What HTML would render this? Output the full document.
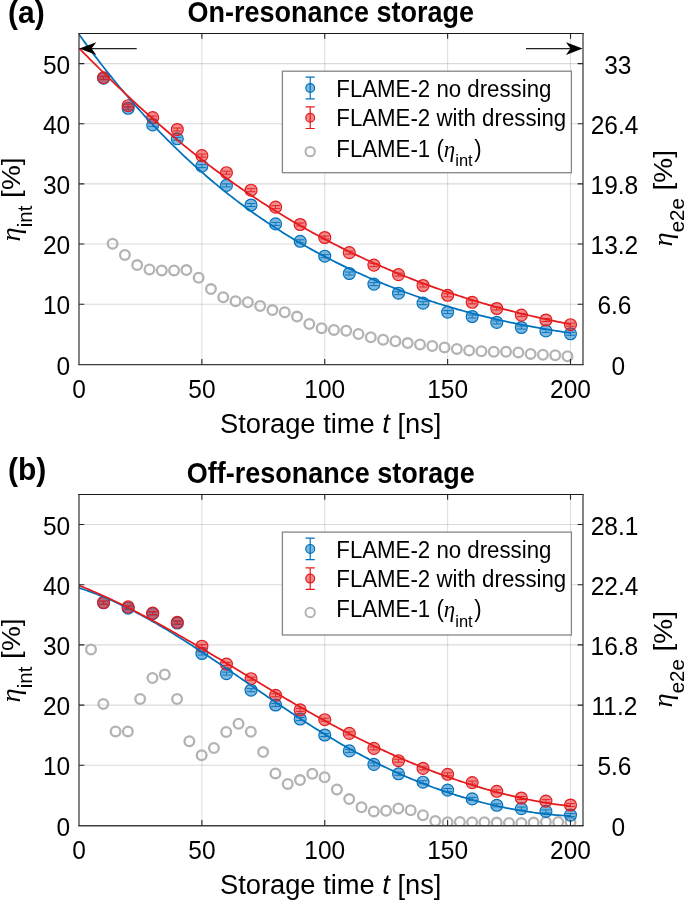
<!DOCTYPE html>
<html><head><meta charset="utf-8"><style>
html,body{margin:0;padding:0;background:#fff;}
svg{display:block;will-change:transform;}
text{font-family:"Liberation Sans", sans-serif;fill:#000;}
</style></head><body>
<svg width="685" height="900" viewBox="0 0 685 900">
<rect width="685" height="900" fill="#fff"/>
<clipPath id="clipa"><rect x="79.0" y="33.5" width="503.9" height="330.9"/></clipPath>
<path d="M201.88 33.5V364.4M324.75 33.5V364.4M447.62 33.5V364.4M570.50 33.5V364.4" stroke="#262626" stroke-opacity="0.15" stroke-width="1.1" fill="none"/>
<path d="M79.0 304.24H582.9M79.0 244.07H582.9M79.0 183.91H582.9M79.0 123.75H582.9M79.0 63.58H582.9" stroke="#262626" stroke-opacity="0.17" stroke-width="1.1" fill="none"/>
<g clip-path="url(#clipa)">
<circle cx="112.60" cy="243.80" r="4.85" fill="none" stroke="#B3B3B3" stroke-width="2.3"/>
<circle cx="124.89" cy="254.90" r="4.85" fill="none" stroke="#B3B3B3" stroke-width="2.3"/>
<circle cx="137.19" cy="265.10" r="4.85" fill="none" stroke="#B3B3B3" stroke-width="2.3"/>
<circle cx="149.48" cy="269.50" r="4.85" fill="none" stroke="#B3B3B3" stroke-width="2.3"/>
<circle cx="161.78" cy="270.40" r="4.85" fill="none" stroke="#B3B3B3" stroke-width="2.3"/>
<circle cx="174.07" cy="270.40" r="4.85" fill="none" stroke="#B3B3B3" stroke-width="2.3"/>
<circle cx="186.37" cy="270.10" r="4.85" fill="none" stroke="#B3B3B3" stroke-width="2.3"/>
<circle cx="198.66" cy="277.70" r="4.85" fill="none" stroke="#B3B3B3" stroke-width="2.3"/>
<circle cx="210.96" cy="289.10" r="4.85" fill="none" stroke="#B3B3B3" stroke-width="2.3"/>
<circle cx="223.25" cy="297.20" r="4.85" fill="none" stroke="#B3B3B3" stroke-width="2.3"/>
<circle cx="235.55" cy="301.30" r="4.85" fill="none" stroke="#B3B3B3" stroke-width="2.3"/>
<circle cx="247.84" cy="302.20" r="4.85" fill="none" stroke="#B3B3B3" stroke-width="2.3"/>
<circle cx="260.14" cy="306.00" r="4.85" fill="none" stroke="#B3B3B3" stroke-width="2.3"/>
<circle cx="272.44" cy="310.10" r="4.85" fill="none" stroke="#B3B3B3" stroke-width="2.3"/>
<circle cx="284.73" cy="312.30" r="4.85" fill="none" stroke="#B3B3B3" stroke-width="2.3"/>
<circle cx="297.02" cy="316.60" r="4.85" fill="none" stroke="#B3B3B3" stroke-width="2.3"/>
<circle cx="309.32" cy="324.00" r="4.85" fill="none" stroke="#B3B3B3" stroke-width="2.3"/>
<circle cx="321.62" cy="328.30" r="4.85" fill="none" stroke="#B3B3B3" stroke-width="2.3"/>
<circle cx="333.91" cy="329.90" r="4.85" fill="none" stroke="#B3B3B3" stroke-width="2.3"/>
<circle cx="346.20" cy="330.70" r="4.85" fill="none" stroke="#B3B3B3" stroke-width="2.3"/>
<circle cx="358.50" cy="334.00" r="4.85" fill="none" stroke="#B3B3B3" stroke-width="2.3"/>
<circle cx="370.79" cy="337.20" r="4.85" fill="none" stroke="#B3B3B3" stroke-width="2.3"/>
<circle cx="383.09" cy="339.70" r="4.85" fill="none" stroke="#B3B3B3" stroke-width="2.3"/>
<circle cx="395.38" cy="341.20" r="4.85" fill="none" stroke="#B3B3B3" stroke-width="2.3"/>
<circle cx="407.68" cy="343.10" r="4.85" fill="none" stroke="#B3B3B3" stroke-width="2.3"/>
<circle cx="419.98" cy="344.50" r="4.85" fill="none" stroke="#B3B3B3" stroke-width="2.3"/>
<circle cx="432.27" cy="346.00" r="4.85" fill="none" stroke="#B3B3B3" stroke-width="2.3"/>
<circle cx="444.56" cy="347.40" r="4.85" fill="none" stroke="#B3B3B3" stroke-width="2.3"/>
<circle cx="456.86" cy="348.90" r="4.85" fill="none" stroke="#B3B3B3" stroke-width="2.3"/>
<circle cx="469.15" cy="350.40" r="4.85" fill="none" stroke="#B3B3B3" stroke-width="2.3"/>
<circle cx="481.45" cy="351.20" r="4.85" fill="none" stroke="#B3B3B3" stroke-width="2.3"/>
<circle cx="493.75" cy="351.80" r="4.85" fill="none" stroke="#B3B3B3" stroke-width="2.3"/>
<circle cx="506.04" cy="351.80" r="4.85" fill="none" stroke="#B3B3B3" stroke-width="2.3"/>
<circle cx="518.34" cy="352.40" r="4.85" fill="none" stroke="#B3B3B3" stroke-width="2.3"/>
<circle cx="530.63" cy="353.90" r="4.85" fill="none" stroke="#B3B3B3" stroke-width="2.3"/>
<circle cx="542.92" cy="354.70" r="4.85" fill="none" stroke="#B3B3B3" stroke-width="2.3"/>
<circle cx="555.22" cy="355.30" r="4.85" fill="none" stroke="#B3B3B3" stroke-width="2.3"/>
<circle cx="567.51" cy="356.20" r="4.85" fill="none" stroke="#B3B3B3" stroke-width="2.3"/>
<circle cx="103.58" cy="78.20" r="5.95" fill="#0072BD" fill-opacity="0.5" stroke="#0072BD" stroke-width="1.2"/><path d="M99.17 76.70H107.98M99.17 79.70H107.98M103.58 76.70V79.70" stroke="#0072BD" stroke-width="0.9" fill="none"/>
<circle cx="128.15" cy="108.30" r="5.95" fill="#0072BD" fill-opacity="0.5" stroke="#0072BD" stroke-width="1.2"/><path d="M123.75 106.80H132.55M123.75 109.80H132.55M128.15 106.80V109.80" stroke="#0072BD" stroke-width="0.9" fill="none"/>
<circle cx="152.72" cy="124.90" r="5.95" fill="#0072BD" fill-opacity="0.5" stroke="#0072BD" stroke-width="1.2"/><path d="M148.32 123.40H157.12M148.32 126.40H157.12M152.72 123.40V126.40" stroke="#0072BD" stroke-width="0.9" fill="none"/>
<circle cx="177.30" cy="138.80" r="5.95" fill="#0072BD" fill-opacity="0.5" stroke="#0072BD" stroke-width="1.2"/><path d="M172.90 137.30H181.70M172.90 140.30H181.70M177.30 137.30V140.30" stroke="#0072BD" stroke-width="0.9" fill="none"/>
<circle cx="201.88" cy="166.10" r="5.95" fill="#0072BD" fill-opacity="0.5" stroke="#0072BD" stroke-width="1.2"/><path d="M197.47 164.60H206.28M197.47 167.60H206.28M201.88 164.60V167.60" stroke="#0072BD" stroke-width="0.9" fill="none"/>
<circle cx="226.45" cy="185.40" r="5.95" fill="#0072BD" fill-opacity="0.5" stroke="#0072BD" stroke-width="1.2"/><path d="M222.05 183.90H230.85M222.05 186.90H230.85M226.45 183.90V186.90" stroke="#0072BD" stroke-width="0.9" fill="none"/>
<circle cx="251.03" cy="205.00" r="5.95" fill="#0072BD" fill-opacity="0.5" stroke="#0072BD" stroke-width="1.2"/><path d="M246.62 203.50H255.43M246.62 206.50H255.43M251.03 203.50V206.50" stroke="#0072BD" stroke-width="0.9" fill="none"/>
<circle cx="275.60" cy="223.90" r="5.95" fill="#0072BD" fill-opacity="0.5" stroke="#0072BD" stroke-width="1.2"/><path d="M271.20 222.40H280.00M271.20 225.40H280.00M275.60 222.40V225.40" stroke="#0072BD" stroke-width="0.9" fill="none"/>
<circle cx="300.18" cy="241.30" r="5.95" fill="#0072BD" fill-opacity="0.5" stroke="#0072BD" stroke-width="1.2"/><path d="M295.78 239.80H304.57M295.78 242.80H304.57M300.18 239.80V242.80" stroke="#0072BD" stroke-width="0.9" fill="none"/>
<circle cx="324.75" cy="256.20" r="5.95" fill="#0072BD" fill-opacity="0.5" stroke="#0072BD" stroke-width="1.2"/><path d="M320.35 254.70H329.15M320.35 257.70H329.15M324.75 254.70V257.70" stroke="#0072BD" stroke-width="0.9" fill="none"/>
<circle cx="349.32" cy="273.50" r="5.95" fill="#0072BD" fill-opacity="0.5" stroke="#0072BD" stroke-width="1.2"/><path d="M344.93 272.00H353.72M344.93 275.00H353.72M349.32 272.00V275.00" stroke="#0072BD" stroke-width="0.9" fill="none"/>
<circle cx="373.90" cy="284.10" r="5.95" fill="#0072BD" fill-opacity="0.5" stroke="#0072BD" stroke-width="1.2"/><path d="M369.50 282.60H378.30M369.50 285.60H378.30M373.90 282.60V285.60" stroke="#0072BD" stroke-width="0.9" fill="none"/>
<circle cx="398.48" cy="293.20" r="5.95" fill="#0072BD" fill-opacity="0.5" stroke="#0072BD" stroke-width="1.2"/><path d="M394.08 291.70H402.88M394.08 294.70H402.88M398.48 291.70V294.70" stroke="#0072BD" stroke-width="0.9" fill="none"/>
<circle cx="423.05" cy="303.10" r="5.95" fill="#0072BD" fill-opacity="0.5" stroke="#0072BD" stroke-width="1.2"/><path d="M418.65 301.60H427.45M418.65 304.60H427.45M423.05 301.60V304.60" stroke="#0072BD" stroke-width="0.9" fill="none"/>
<circle cx="447.62" cy="312.10" r="5.95" fill="#0072BD" fill-opacity="0.5" stroke="#0072BD" stroke-width="1.2"/><path d="M443.23 310.60H452.02M443.23 313.60H452.02M447.62 310.60V313.60" stroke="#0072BD" stroke-width="0.9" fill="none"/>
<circle cx="472.20" cy="316.50" r="5.95" fill="#0072BD" fill-opacity="0.5" stroke="#0072BD" stroke-width="1.2"/><path d="M467.80 315.00H476.60M467.80 318.00H476.60M472.20 315.00V318.00" stroke="#0072BD" stroke-width="0.9" fill="none"/>
<circle cx="496.77" cy="322.40" r="5.95" fill="#0072BD" fill-opacity="0.5" stroke="#0072BD" stroke-width="1.2"/><path d="M492.38 320.90H501.17M492.38 323.90H501.17M496.77 320.90V323.90" stroke="#0072BD" stroke-width="0.9" fill="none"/>
<circle cx="521.35" cy="327.50" r="5.95" fill="#0072BD" fill-opacity="0.5" stroke="#0072BD" stroke-width="1.2"/><path d="M516.95 326.00H525.75M516.95 329.00H525.75M521.35 326.00V329.00" stroke="#0072BD" stroke-width="0.9" fill="none"/>
<circle cx="545.92" cy="330.90" r="5.95" fill="#0072BD" fill-opacity="0.5" stroke="#0072BD" stroke-width="1.2"/><path d="M541.52 329.40H550.32M541.52 332.40H550.32M545.92 329.40V332.40" stroke="#0072BD" stroke-width="0.9" fill="none"/>
<circle cx="570.50" cy="333.80" r="5.95" fill="#0072BD" fill-opacity="0.5" stroke="#0072BD" stroke-width="1.2"/><path d="M566.10 332.30H574.90M566.10 335.30H574.90M570.50 332.30V335.30" stroke="#0072BD" stroke-width="0.9" fill="none"/>
<circle cx="103.58" cy="77.70" r="5.95" fill="#E41A1C" fill-opacity="0.5" stroke="#E41A1C" stroke-width="1.2"/><path d="M99.17 76.20H107.98M99.17 79.20H107.98M103.58 76.20V79.20" stroke="#E41A1C" stroke-width="0.9" fill="none"/>
<circle cx="128.15" cy="105.70" r="5.95" fill="#E41A1C" fill-opacity="0.5" stroke="#E41A1C" stroke-width="1.2"/><path d="M123.75 104.20H132.55M123.75 107.20H132.55M128.15 104.20V107.20" stroke="#E41A1C" stroke-width="0.9" fill="none"/>
<circle cx="152.72" cy="117.60" r="5.95" fill="#E41A1C" fill-opacity="0.5" stroke="#E41A1C" stroke-width="1.2"/><path d="M148.32 116.10H157.12M148.32 119.10H157.12M152.72 116.10V119.10" stroke="#E41A1C" stroke-width="0.9" fill="none"/>
<circle cx="177.30" cy="129.50" r="5.95" fill="#E41A1C" fill-opacity="0.5" stroke="#E41A1C" stroke-width="1.2"/><path d="M172.90 128.00H181.70M172.90 131.00H181.70M177.30 128.00V131.00" stroke="#E41A1C" stroke-width="0.9" fill="none"/>
<circle cx="201.88" cy="155.60" r="5.95" fill="#E41A1C" fill-opacity="0.5" stroke="#E41A1C" stroke-width="1.2"/><path d="M197.47 154.10H206.28M197.47 157.10H206.28M201.88 154.10V157.10" stroke="#E41A1C" stroke-width="0.9" fill="none"/>
<circle cx="226.45" cy="172.70" r="5.95" fill="#E41A1C" fill-opacity="0.5" stroke="#E41A1C" stroke-width="1.2"/><path d="M222.05 171.20H230.85M222.05 174.20H230.85M226.45 171.20V174.20" stroke="#E41A1C" stroke-width="0.9" fill="none"/>
<circle cx="251.03" cy="190.20" r="5.95" fill="#E41A1C" fill-opacity="0.5" stroke="#E41A1C" stroke-width="1.2"/><path d="M246.62 188.70H255.43M246.62 191.70H255.43M251.03 188.70V191.70" stroke="#E41A1C" stroke-width="0.9" fill="none"/>
<circle cx="275.60" cy="207.10" r="5.95" fill="#E41A1C" fill-opacity="0.5" stroke="#E41A1C" stroke-width="1.2"/><path d="M271.20 205.60H280.00M271.20 208.60H280.00M275.60 205.60V208.60" stroke="#E41A1C" stroke-width="0.9" fill="none"/>
<circle cx="300.18" cy="224.50" r="5.95" fill="#E41A1C" fill-opacity="0.5" stroke="#E41A1C" stroke-width="1.2"/><path d="M295.78 223.00H304.57M295.78 226.00H304.57M300.18 223.00V226.00" stroke="#E41A1C" stroke-width="0.9" fill="none"/>
<circle cx="324.75" cy="237.50" r="5.95" fill="#E41A1C" fill-opacity="0.5" stroke="#E41A1C" stroke-width="1.2"/><path d="M320.35 236.00H329.15M320.35 239.00H329.15M324.75 236.00V239.00" stroke="#E41A1C" stroke-width="0.9" fill="none"/>
<circle cx="349.32" cy="252.60" r="5.95" fill="#E41A1C" fill-opacity="0.5" stroke="#E41A1C" stroke-width="1.2"/><path d="M344.93 251.10H353.72M344.93 254.10H353.72M349.32 251.10V254.10" stroke="#E41A1C" stroke-width="0.9" fill="none"/>
<circle cx="373.90" cy="265.10" r="5.95" fill="#E41A1C" fill-opacity="0.5" stroke="#E41A1C" stroke-width="1.2"/><path d="M369.50 263.60H378.30M369.50 266.60H378.30M373.90 263.60V266.60" stroke="#E41A1C" stroke-width="0.9" fill="none"/>
<circle cx="398.48" cy="274.60" r="5.95" fill="#E41A1C" fill-opacity="0.5" stroke="#E41A1C" stroke-width="1.2"/><path d="M394.08 273.10H402.88M394.08 276.10H402.88M398.48 273.10V276.10" stroke="#E41A1C" stroke-width="0.9" fill="none"/>
<circle cx="423.05" cy="285.50" r="5.95" fill="#E41A1C" fill-opacity="0.5" stroke="#E41A1C" stroke-width="1.2"/><path d="M418.65 284.00H427.45M418.65 287.00H427.45M423.05 284.00V287.00" stroke="#E41A1C" stroke-width="0.9" fill="none"/>
<circle cx="447.62" cy="295.30" r="5.95" fill="#E41A1C" fill-opacity="0.5" stroke="#E41A1C" stroke-width="1.2"/><path d="M443.23 293.80H452.02M443.23 296.80H452.02M447.62 293.80V296.80" stroke="#E41A1C" stroke-width="0.9" fill="none"/>
<circle cx="472.20" cy="302.30" r="5.95" fill="#E41A1C" fill-opacity="0.5" stroke="#E41A1C" stroke-width="1.2"/><path d="M467.80 300.80H476.60M467.80 303.80H476.60M472.20 300.80V303.80" stroke="#E41A1C" stroke-width="0.9" fill="none"/>
<circle cx="496.77" cy="308.50" r="5.95" fill="#E41A1C" fill-opacity="0.5" stroke="#E41A1C" stroke-width="1.2"/><path d="M492.38 307.00H501.17M492.38 310.00H501.17M496.77 307.00V310.00" stroke="#E41A1C" stroke-width="0.9" fill="none"/>
<circle cx="521.35" cy="315.10" r="5.95" fill="#E41A1C" fill-opacity="0.5" stroke="#E41A1C" stroke-width="1.2"/><path d="M516.95 313.60H525.75M516.95 316.60H525.75M521.35 313.60V316.60" stroke="#E41A1C" stroke-width="0.9" fill="none"/>
<circle cx="545.92" cy="320.00" r="5.95" fill="#E41A1C" fill-opacity="0.5" stroke="#E41A1C" stroke-width="1.2"/><path d="M541.52 318.50H550.32M541.52 321.50H550.32M545.92 318.50V321.50" stroke="#E41A1C" stroke-width="0.9" fill="none"/>
<circle cx="570.50" cy="324.70" r="5.95" fill="#E41A1C" fill-opacity="0.5" stroke="#E41A1C" stroke-width="1.2"/><path d="M566.10 323.20H574.90M566.10 326.20H574.90M570.50 323.20V326.20" stroke="#E41A1C" stroke-width="0.9" fill="none"/>
<polyline points="79.00,34.37 81.06,37.23 83.11,40.06 85.17,42.88 87.23,45.67 89.28,48.45 91.34,51.20 93.40,53.93 95.45,56.65 97.51,59.34 99.56,62.01 101.62,64.67 103.68,67.30 105.73,69.92 107.79,72.52 109.85,75.09 111.90,77.65 113.96,80.19 116.02,82.71 118.07,85.21 120.13,87.69 122.19,90.16 124.24,92.60 126.30,95.03 128.36,97.43 130.41,99.82 132.47,102.20 134.53,104.55 136.58,106.88 138.64,109.20 140.69,111.50 142.75,113.78 144.81,116.05 146.86,118.29 148.92,120.52 150.98,122.73 153.03,124.93 155.09,127.11 157.15,129.27 159.20,131.41 161.26,133.53 163.32,135.64 165.37,137.74 167.43,139.81 169.49,141.87 171.54,143.91 173.60,145.94 175.65,147.95 177.71,149.95 179.77,151.92 181.82,153.89 183.88,155.83 185.94,157.76 187.99,159.68 190.05,161.58 192.11,163.46 194.16,165.33 196.22,167.18 198.28,169.02 200.33,170.84 202.39,172.65 204.45,174.44 206.50,176.22 208.56,177.98 210.62,179.73 212.67,181.46 214.73,183.18 216.78,184.89 218.84,186.58 220.90,188.26 222.95,189.92 225.01,191.57 227.07,193.20 229.12,194.82 231.18,196.43 233.24,198.02 235.29,199.60 237.35,201.17 239.41,202.72 241.46,204.26 243.52,205.78 245.58,207.30 247.63,208.80 249.69,210.29 251.74,211.76 253.80,213.22 255.86,214.67 257.91,216.11 259.97,217.53 262.03,218.94 264.08,220.34 266.14,221.73 268.20,223.11 270.25,224.47 272.31,225.82 274.37,227.16 276.42,228.49 278.48,229.81 280.54,231.11 282.59,232.41 284.65,233.69 286.71,234.96 288.76,236.22 290.82,237.47 292.87,238.71 294.93,239.93 296.99,241.15 299.04,242.36 301.10,243.55 303.16,244.74 305.21,245.91 307.27,247.08 309.33,248.23 311.38,249.37 313.44,250.51 315.50,251.63 317.55,252.75 319.61,253.85 321.67,254.94 323.72,256.03 325.78,257.11 327.83,258.17 329.89,259.23 331.95,260.28 334.00,261.32 336.06,262.35 338.12,263.37 340.17,264.38 342.23,265.39 344.29,266.38 346.34,267.37 348.40,268.35 350.46,269.32 352.51,270.28 354.57,271.23 356.63,272.18 358.68,273.11 360.74,274.04 362.79,274.97 364.85,275.88 366.91,276.78 368.96,277.68 371.02,278.57 373.08,279.45 375.13,280.33 377.19,281.19 379.25,282.05 381.30,282.90 383.36,283.75 385.42,284.58 387.47,285.41 389.53,286.23 391.59,287.04 393.64,287.85 395.70,288.65 397.76,289.44 399.81,290.22 401.87,291.00 403.92,291.77 405.98,292.53 408.04,293.28 410.09,294.03 412.15,294.77 414.21,295.50 416.26,296.23 418.32,296.94 420.38,297.66 422.43,298.36 424.49,299.06 426.55,299.75 428.60,300.43 430.66,301.11 432.72,301.78 434.77,302.44 436.83,303.10 438.88,303.75 440.94,304.39 443.00,305.03 445.05,305.66 447.11,306.28 449.17,306.90 451.22,307.51 453.28,308.11 455.34,308.71 457.39,309.30 459.45,309.88 461.51,310.46 463.56,311.03 465.62,311.60 467.68,312.16 469.73,312.71 471.79,313.26 473.85,313.80 475.90,314.34 477.96,314.86 480.01,315.39 482.07,315.90 484.13,316.41 486.18,316.92 488.24,317.42 490.30,317.91 492.35,318.40 494.41,318.88 496.47,319.36 498.52,319.83 500.58,320.29 502.64,320.75 504.69,321.20 506.75,321.65 508.81,322.09 510.86,322.53 512.92,322.96 514.97,323.39 517.03,323.81 519.09,324.22 521.14,324.63 523.20,325.04 525.26,325.43 527.31,325.83 529.37,326.22 531.43,326.60 533.48,326.98 535.54,327.35 537.60,327.72 539.65,328.08 541.71,328.44 543.77,328.80 545.82,329.14 547.88,329.49 549.94,329.83 551.99,330.16 554.05,330.49 556.10,330.81 558.16,331.13 560.22,331.45 562.27,331.76 564.33,332.07 566.39,332.37 568.44,332.66 570.50,332.96" fill="none" stroke="#0072BD" stroke-width="1.75"/>
<polyline points="79.00,48.14 81.06,50.23 83.11,52.31 85.17,54.38 87.23,56.45 89.28,58.52 91.34,60.58 93.40,62.63 95.45,64.68 97.51,66.72 99.56,68.75 101.62,70.78 103.68,72.80 105.73,74.82 107.79,76.83 109.85,78.83 111.90,80.82 113.96,82.81 116.02,84.79 118.07,86.76 120.13,88.72 122.19,90.68 124.24,92.63 126.30,94.56 128.36,96.50 130.41,98.42 132.47,100.33 134.53,102.24 136.58,104.13 138.64,106.02 140.69,107.90 142.75,109.77 144.81,111.63 146.86,113.49 148.92,115.33 150.98,117.17 153.03,119.00 155.09,120.81 157.15,122.62 159.20,124.42 161.26,126.21 163.32,128.00 165.37,129.77 167.43,131.53 169.49,133.29 171.54,135.03 173.60,136.77 175.65,138.50 177.71,140.21 179.77,141.92 181.82,143.62 183.88,145.31 185.94,146.99 187.99,148.66 190.05,150.32 192.11,151.98 194.16,153.62 196.22,155.25 198.28,156.87 200.33,158.49 202.39,160.09 204.45,161.68 206.50,163.27 208.56,164.84 210.62,166.41 212.67,167.96 214.73,169.51 216.78,171.04 218.84,172.57 220.90,174.08 222.95,175.59 225.01,177.09 227.07,178.58 229.12,180.05 231.18,181.52 233.24,182.98 235.29,184.43 237.35,185.87 239.41,187.31 241.46,188.73 243.52,190.14 245.58,191.55 247.63,192.94 249.69,194.33 251.74,195.71 253.80,197.08 255.86,198.44 257.91,199.79 259.97,201.13 262.03,202.46 264.08,203.79 266.14,205.11 268.20,206.41 270.25,207.71 272.31,209.00 274.37,210.29 276.42,211.56 278.48,212.83 280.54,214.08 282.59,215.33 284.65,216.57 286.71,217.81 288.76,219.03 290.82,220.25 292.87,221.46 294.93,222.66 296.99,223.85 299.04,225.03 301.10,226.21 303.16,227.38 305.21,228.54 307.27,229.69 309.33,230.84 311.38,231.98 313.44,233.11 315.50,234.23 317.55,235.34 319.61,236.45 321.67,237.55 323.72,238.64 325.78,239.73 327.83,240.80 329.89,241.88 331.95,242.94 334.00,243.99 336.06,245.04 338.12,246.08 340.17,247.12 342.23,248.15 344.29,249.17 346.34,250.18 348.40,251.19 350.46,252.19 352.51,253.18 354.57,254.17 356.63,255.14 358.68,256.12 360.74,257.08 362.79,258.04 364.85,258.99 366.91,259.94 368.96,260.88 371.02,261.81 373.08,262.74 375.13,263.66 377.19,264.57 379.25,265.48 381.30,266.38 383.36,267.27 385.42,268.16 387.47,269.04 389.53,269.92 391.59,270.79 393.64,271.65 395.70,272.50 397.76,273.35 399.81,274.20 401.87,275.03 403.92,275.86 405.98,276.69 408.04,277.51 410.09,278.32 412.15,279.12 414.21,279.92 416.26,280.72 418.32,281.50 420.38,282.29 422.43,283.06 424.49,283.83 426.55,284.59 428.60,285.35 430.66,286.10 432.72,286.85 434.77,287.59 436.83,288.32 438.88,289.05 440.94,289.77 443.00,290.49 445.05,291.20 447.11,291.90 449.17,292.60 451.22,293.29 453.28,293.98 455.34,294.66 457.39,295.33 459.45,296.00 461.51,296.67 463.56,297.33 465.62,297.98 467.68,298.62 469.73,299.27 471.79,299.90 473.85,300.53 475.90,301.16 477.96,301.78 480.01,302.39 482.07,303.00 484.13,303.60 486.18,304.20 488.24,304.79 490.30,305.38 492.35,305.96 494.41,306.53 496.47,307.10 498.52,307.67 500.58,308.23 502.64,308.78 504.69,309.33 506.75,309.87 508.81,310.41 510.86,310.95 512.92,311.47 514.97,312.00 517.03,312.51 519.09,313.03 521.14,313.53 523.20,314.04 525.26,314.53 527.31,315.03 529.37,315.51 531.43,316.00 533.48,316.47 535.54,316.95 537.60,317.41 539.65,317.88 541.71,318.33 543.77,318.79 545.82,319.23 547.88,319.68 549.94,320.12 551.99,320.55 554.05,320.98 556.10,321.40 558.16,321.82 560.22,322.23 562.27,322.64 564.33,323.05 566.39,323.45 568.44,323.84 570.50,324.23" fill="none" stroke="#E41A1C" stroke-width="1.75"/>
</g>
<path d="M91 48.6H136.7" stroke="#222" stroke-width="1.4"/>
<path d="M79.4 48.6L96.3 42.2L91.6 48.6L96.3 55.0Z" fill="#000"/>
<path d="M582.6 48.6L565.9 42.2L570.5 48.6L565.9 55.0Z" fill="#000"/>
<path d="M526 48.6H571" stroke="#222" stroke-width="1.4"/>
<rect x="282.4" y="71.2" width="289.0" height="101.49999999999999" fill="#fff" stroke="#858585" stroke-width="1.3"/>
<path d="M310.2 77.2V98.8M305.59999999999997 77.2H314.8M305.59999999999997 98.8H314.8" stroke="#0072BD" stroke-width="1.2" fill="none"/>
<circle cx="310.2" cy="88.0" r="4.4" fill="#0072BD" fill-opacity="0.5" stroke="#0072BD" stroke-width="1.2"/>
<path d="M310.2 106.9V128.5M305.59999999999997 106.9H314.8M305.59999999999997 128.5H314.8" stroke="#E41A1C" stroke-width="1.2" fill="none"/>
<circle cx="310.2" cy="117.7" r="4.4" fill="#E41A1C" fill-opacity="0.5" stroke="#E41A1C" stroke-width="1.2"/>
<circle cx="310.2" cy="151.60000000000002" r="4.7" fill="none" stroke="#B3B3B3" stroke-width="2"/>
<text transform="translate(336.3 96.7) scale(1 1.04)" font-size="22.25">FLAME-2 no dressing</text>
<text transform="translate(336.3 126.1) scale(1 1.04)" font-size="22.25">FLAME-2 with dressing</text>
<text transform="translate(336.3 156.5) scale(1 1.04)" font-size="22.25">FLAME-1 (<tspan font-family="Liberation Serif" font-style="italic" font-size="23">η</tspan><tspan font-size="16.5" dy="9.5">int</tspan><tspan dy="-9.5" dx="1.5">)</tspan></text>
<path d="M78.4 33.5H583.5" stroke="#1a1a1a" stroke-width="1.05" fill="none"/>
<path d="M78.4 364.65H583.5" stroke="#3c3c3c" stroke-width="1.3" fill="none"/>
<path d="M79.0 33.0V365.0M583.0 33.0V365.0" stroke="#2a2a2a" stroke-width="1.15" fill="none"/>
<path d="M201.88 364.4V358.9M201.88 33.5V38.8M324.75 364.4V358.9M324.75 33.5V38.8M447.62 364.4V358.9M447.62 33.5V38.8M570.50 364.4V358.9M570.50 33.5V38.8M79.0 304.24H84.3M582.9 304.24H577.6M79.0 244.07H84.3M582.9 244.07H577.6M79.0 183.91H84.3M582.9 183.91H577.6M79.0 123.75H84.3M582.9 123.75H577.6M79.0 63.58H84.3M582.9 63.58H577.6" stroke="#262626" stroke-width="1.1" fill="none"/>
<text transform="translate(79.00 398.0) scale(1 1.04)" font-size="24.5" text-anchor="middle">0</text>
<text transform="translate(201.88 398.0) scale(1 1.04)" font-size="24.5" text-anchor="middle">50</text>
<text transform="translate(324.75 398.0) scale(1 1.04)" font-size="24.5" text-anchor="middle">100</text>
<text transform="translate(447.62 398.0) scale(1 1.04)" font-size="24.5" text-anchor="middle">150</text>
<text transform="translate(570.50 398.0) scale(1 1.04)" font-size="24.5" text-anchor="middle">200</text>
<text transform="translate(70.2 374.50) scale(1 1.04)" font-size="24.5" text-anchor="end">0</text>
<text transform="translate(70.2 314.34) scale(1 1.04)" font-size="24.5" text-anchor="end">10</text>
<text transform="translate(70.2 254.17) scale(1 1.04)" font-size="24.5" text-anchor="end">20</text>
<text transform="translate(70.2 194.01) scale(1 1.04)" font-size="24.5" text-anchor="end">30</text>
<text transform="translate(70.2 133.85) scale(1 1.04)" font-size="24.5" text-anchor="end">40</text>
<text transform="translate(70.2 73.68) scale(1 1.04)" font-size="24.5" text-anchor="end">50</text>
<text transform="translate(618.4 374.50) scale(1 1.04)" font-size="24.5" text-anchor="middle">0</text>
<text transform="translate(614.4 314.34) scale(1 1.04)" font-size="24.5" text-anchor="middle">6.6</text>
<text transform="translate(614.4 254.17) scale(1 1.04)" font-size="24.5" text-anchor="middle">13.2</text>
<text transform="translate(614.4 194.01) scale(1 1.04)" font-size="24.5" text-anchor="middle">19.8</text>
<text transform="translate(614.5 133.85) scale(1 1.04)" font-size="24.5" text-anchor="middle">26.4</text>
<text transform="translate(617.8 73.68) scale(1 1.04)" font-size="24.5" text-anchor="middle">33</text>
<text transform="translate(330.7 432.9) scale(1 1.04)" font-size="27.3" text-anchor="middle">Storage time <tspan font-style="italic">t</tspan> [ns]</text>
<text transform="translate(19.7 199.45) rotate(-90) scale(1 0.95)" font-size="28" text-anchor="middle"><tspan font-family="Liberation Serif" font-style="italic" font-size="28.5">η</tspan><tspan font-size="20.5" dy="13.4">int</tspan><tspan dy="-13.4"> [%]</tspan></text>
<text transform="translate(671.6 198.25) rotate(-90) scale(1 0.95)" font-size="28" text-anchor="middle"><tspan font-family="Liberation Serif" font-style="italic" font-size="28.5">η</tspan><tspan font-size="20.5" dy="13.4">e2e</tspan><tspan dy="-13.4"> [%]</tspan></text>
<text transform="translate(330.7 21.9) scale(1 1.065)" font-size="27" font-weight="bold" text-anchor="middle">On-resonance storage</text>
<text transform="translate(8 23.3) scale(1 1.04)" font-size="30" font-weight="bold">(a)</text>
<clipPath id="clipb"><rect x="79.0" y="494.4" width="503.9" height="331.1"/></clipPath>
<path d="M201.88 494.4V825.5M324.75 494.4V825.5M447.62 494.4V825.5M570.50 494.4V825.5" stroke="#262626" stroke-opacity="0.15" stroke-width="1.1" fill="none"/>
<path d="M79.0 765.30H582.9M79.0 705.10H582.9M79.0 644.90H582.9M79.0 584.70H582.9M79.0 524.50H582.9" stroke="#262626" stroke-opacity="0.17" stroke-width="1.1" fill="none"/>
<g clip-path="url(#clipb)">
<circle cx="91.00" cy="649.50" r="4.85" fill="none" stroke="#B3B3B3" stroke-width="2.3"/>
<circle cx="103.30" cy="703.90" r="4.85" fill="none" stroke="#B3B3B3" stroke-width="2.3"/>
<circle cx="115.59" cy="731.40" r="4.85" fill="none" stroke="#B3B3B3" stroke-width="2.3"/>
<circle cx="127.88" cy="731.40" r="4.85" fill="none" stroke="#B3B3B3" stroke-width="2.3"/>
<circle cx="140.18" cy="699.00" r="4.85" fill="none" stroke="#B3B3B3" stroke-width="2.3"/>
<circle cx="152.47" cy="678.00" r="4.85" fill="none" stroke="#B3B3B3" stroke-width="2.3"/>
<circle cx="164.77" cy="674.50" r="4.85" fill="none" stroke="#B3B3B3" stroke-width="2.3"/>
<circle cx="177.06" cy="699.00" r="4.85" fill="none" stroke="#B3B3B3" stroke-width="2.3"/>
<circle cx="189.36" cy="741.30" r="4.85" fill="none" stroke="#B3B3B3" stroke-width="2.3"/>
<circle cx="201.66" cy="755.30" r="4.85" fill="none" stroke="#B3B3B3" stroke-width="2.3"/>
<circle cx="213.95" cy="748.00" r="4.85" fill="none" stroke="#B3B3B3" stroke-width="2.3"/>
<circle cx="226.25" cy="732.00" r="4.85" fill="none" stroke="#B3B3B3" stroke-width="2.3"/>
<circle cx="238.54" cy="723.80" r="4.85" fill="none" stroke="#B3B3B3" stroke-width="2.3"/>
<circle cx="250.84" cy="731.70" r="4.85" fill="none" stroke="#B3B3B3" stroke-width="2.3"/>
<circle cx="263.13" cy="752.10" r="4.85" fill="none" stroke="#B3B3B3" stroke-width="2.3"/>
<circle cx="275.43" cy="773.40" r="4.85" fill="none" stroke="#B3B3B3" stroke-width="2.3"/>
<circle cx="287.72" cy="783.90" r="4.85" fill="none" stroke="#B3B3B3" stroke-width="2.3"/>
<circle cx="300.01" cy="780.10" r="4.85" fill="none" stroke="#B3B3B3" stroke-width="2.3"/>
<circle cx="312.31" cy="773.70" r="4.85" fill="none" stroke="#B3B3B3" stroke-width="2.3"/>
<circle cx="324.61" cy="777.20" r="4.85" fill="none" stroke="#B3B3B3" stroke-width="2.3"/>
<circle cx="336.90" cy="789.50" r="4.85" fill="none" stroke="#B3B3B3" stroke-width="2.3"/>
<circle cx="349.19" cy="799.10" r="4.85" fill="none" stroke="#B3B3B3" stroke-width="2.3"/>
<circle cx="361.49" cy="807.30" r="4.85" fill="none" stroke="#B3B3B3" stroke-width="2.3"/>
<circle cx="373.79" cy="811.40" r="4.85" fill="none" stroke="#B3B3B3" stroke-width="2.3"/>
<circle cx="386.08" cy="810.80" r="4.85" fill="none" stroke="#B3B3B3" stroke-width="2.3"/>
<circle cx="398.38" cy="808.50" r="4.85" fill="none" stroke="#B3B3B3" stroke-width="2.3"/>
<circle cx="410.67" cy="810.20" r="4.85" fill="none" stroke="#B3B3B3" stroke-width="2.3"/>
<circle cx="422.96" cy="815.20" r="4.85" fill="none" stroke="#B3B3B3" stroke-width="2.3"/>
<circle cx="435.26" cy="821.00" r="4.85" fill="none" stroke="#B3B3B3" stroke-width="2.3"/>
<circle cx="447.56" cy="822.30" r="4.85" fill="none" stroke="#B3B3B3" stroke-width="2.3"/>
<circle cx="459.85" cy="822.00" r="4.85" fill="none" stroke="#B3B3B3" stroke-width="2.3"/>
<circle cx="472.14" cy="822.30" r="4.85" fill="none" stroke="#B3B3B3" stroke-width="2.3"/>
<circle cx="484.44" cy="822.30" r="4.85" fill="none" stroke="#B3B3B3" stroke-width="2.3"/>
<circle cx="496.74" cy="822.60" r="4.85" fill="none" stroke="#B3B3B3" stroke-width="2.3"/>
<circle cx="509.03" cy="823.00" r="4.85" fill="none" stroke="#B3B3B3" stroke-width="2.3"/>
<circle cx="521.33" cy="823.00" r="4.85" fill="none" stroke="#B3B3B3" stroke-width="2.3"/>
<circle cx="533.62" cy="822.60" r="4.85" fill="none" stroke="#B3B3B3" stroke-width="2.3"/>
<circle cx="545.91" cy="822.00" r="4.85" fill="none" stroke="#B3B3B3" stroke-width="2.3"/>
<circle cx="558.21" cy="822.00" r="4.85" fill="none" stroke="#B3B3B3" stroke-width="2.3"/>
<circle cx="570.50" cy="822.00" r="4.85" fill="none" stroke="#B3B3B3" stroke-width="2.3"/>
<circle cx="103.58" cy="602.80" r="5.95" fill="#0072BD" fill-opacity="0.5" stroke="#0072BD" stroke-width="1.2"/><path d="M99.17 601.30H107.98M99.17 604.30H107.98M103.58 601.30V604.30" stroke="#0072BD" stroke-width="0.9" fill="none"/>
<circle cx="128.15" cy="608.20" r="5.95" fill="#0072BD" fill-opacity="0.5" stroke="#0072BD" stroke-width="1.2"/><path d="M123.75 606.70H132.55M123.75 609.70H132.55M128.15 606.70V609.70" stroke="#0072BD" stroke-width="0.9" fill="none"/>
<circle cx="152.72" cy="613.60" r="5.95" fill="#0072BD" fill-opacity="0.5" stroke="#0072BD" stroke-width="1.2"/><path d="M148.32 612.10H157.12M148.32 615.10H157.12M152.72 612.10V615.10" stroke="#0072BD" stroke-width="0.9" fill="none"/>
<circle cx="177.30" cy="623.00" r="5.95" fill="#0072BD" fill-opacity="0.5" stroke="#0072BD" stroke-width="1.2"/><path d="M172.90 621.50H181.70M172.90 624.50H181.70M177.30 621.50V624.50" stroke="#0072BD" stroke-width="0.9" fill="none"/>
<circle cx="201.88" cy="653.50" r="5.95" fill="#0072BD" fill-opacity="0.5" stroke="#0072BD" stroke-width="1.2"/><path d="M197.47 652.00H206.28M197.47 655.00H206.28M201.88 652.00V655.00" stroke="#0072BD" stroke-width="0.9" fill="none"/>
<circle cx="226.45" cy="673.60" r="5.95" fill="#0072BD" fill-opacity="0.5" stroke="#0072BD" stroke-width="1.2"/><path d="M222.05 672.10H230.85M222.05 675.10H230.85M226.45 672.10V675.10" stroke="#0072BD" stroke-width="0.9" fill="none"/>
<circle cx="251.03" cy="690.20" r="5.95" fill="#0072BD" fill-opacity="0.5" stroke="#0072BD" stroke-width="1.2"/><path d="M246.62 688.70H255.43M246.62 691.70H255.43M251.03 688.70V691.70" stroke="#0072BD" stroke-width="0.9" fill="none"/>
<circle cx="275.60" cy="705.00" r="5.95" fill="#0072BD" fill-opacity="0.5" stroke="#0072BD" stroke-width="1.2"/><path d="M271.20 703.50H280.00M271.20 706.50H280.00M275.60 703.50V706.50" stroke="#0072BD" stroke-width="0.9" fill="none"/>
<circle cx="300.18" cy="719.00" r="5.95" fill="#0072BD" fill-opacity="0.5" stroke="#0072BD" stroke-width="1.2"/><path d="M295.78 717.50H304.57M295.78 720.50H304.57M300.18 717.50V720.50" stroke="#0072BD" stroke-width="0.9" fill="none"/>
<circle cx="324.75" cy="735.00" r="5.95" fill="#0072BD" fill-opacity="0.5" stroke="#0072BD" stroke-width="1.2"/><path d="M320.35 733.50H329.15M320.35 736.50H329.15M324.75 733.50V736.50" stroke="#0072BD" stroke-width="0.9" fill="none"/>
<circle cx="349.32" cy="750.90" r="5.95" fill="#0072BD" fill-opacity="0.5" stroke="#0072BD" stroke-width="1.2"/><path d="M344.93 749.40H353.72M344.93 752.40H353.72M349.32 749.40V752.40" stroke="#0072BD" stroke-width="0.9" fill="none"/>
<circle cx="373.90" cy="764.40" r="5.95" fill="#0072BD" fill-opacity="0.5" stroke="#0072BD" stroke-width="1.2"/><path d="M369.50 762.90H378.30M369.50 765.90H378.30M373.90 762.90V765.90" stroke="#0072BD" stroke-width="0.9" fill="none"/>
<circle cx="398.48" cy="773.80" r="5.95" fill="#0072BD" fill-opacity="0.5" stroke="#0072BD" stroke-width="1.2"/><path d="M394.08 772.30H402.88M394.08 775.30H402.88M398.48 772.30V775.30" stroke="#0072BD" stroke-width="0.9" fill="none"/>
<circle cx="423.05" cy="782.20" r="5.95" fill="#0072BD" fill-opacity="0.5" stroke="#0072BD" stroke-width="1.2"/><path d="M418.65 780.70H427.45M418.65 783.70H427.45M423.05 780.70V783.70" stroke="#0072BD" stroke-width="0.9" fill="none"/>
<circle cx="447.62" cy="790.10" r="5.95" fill="#0072BD" fill-opacity="0.5" stroke="#0072BD" stroke-width="1.2"/><path d="M443.23 788.60H452.02M443.23 791.60H452.02M447.62 788.60V791.60" stroke="#0072BD" stroke-width="0.9" fill="none"/>
<circle cx="472.20" cy="798.90" r="5.95" fill="#0072BD" fill-opacity="0.5" stroke="#0072BD" stroke-width="1.2"/><path d="M467.80 797.40H476.60M467.80 800.40H476.60M472.20 797.40V800.40" stroke="#0072BD" stroke-width="0.9" fill="none"/>
<circle cx="496.77" cy="805.30" r="5.95" fill="#0072BD" fill-opacity="0.5" stroke="#0072BD" stroke-width="1.2"/><path d="M492.38 803.80H501.17M492.38 806.80H501.17M496.77 803.80V806.80" stroke="#0072BD" stroke-width="0.9" fill="none"/>
<circle cx="521.35" cy="808.60" r="5.95" fill="#0072BD" fill-opacity="0.5" stroke="#0072BD" stroke-width="1.2"/><path d="M516.95 807.10H525.75M516.95 810.10H525.75M521.35 807.10V810.10" stroke="#0072BD" stroke-width="0.9" fill="none"/>
<circle cx="545.92" cy="811.40" r="5.95" fill="#0072BD" fill-opacity="0.5" stroke="#0072BD" stroke-width="1.2"/><path d="M541.52 809.90H550.32M541.52 812.90H550.32M545.92 809.90V812.90" stroke="#0072BD" stroke-width="0.9" fill="none"/>
<circle cx="570.50" cy="815.10" r="5.95" fill="#0072BD" fill-opacity="0.5" stroke="#0072BD" stroke-width="1.2"/><path d="M566.10 813.60H574.90M566.10 816.60H574.90M570.50 813.60V816.60" stroke="#0072BD" stroke-width="0.9" fill="none"/>
<circle cx="103.58" cy="602.50" r="5.95" fill="#E41A1C" fill-opacity="0.5" stroke="#E41A1C" stroke-width="1.2"/><path d="M99.17 601.00H107.98M99.17 604.00H107.98M103.58 601.00V604.00" stroke="#E41A1C" stroke-width="0.9" fill="none"/>
<circle cx="128.15" cy="606.90" r="5.95" fill="#E41A1C" fill-opacity="0.5" stroke="#E41A1C" stroke-width="1.2"/><path d="M123.75 605.40H132.55M123.75 608.40H132.55M128.15 605.40V608.40" stroke="#E41A1C" stroke-width="0.9" fill="none"/>
<circle cx="152.72" cy="613.10" r="5.95" fill="#E41A1C" fill-opacity="0.5" stroke="#E41A1C" stroke-width="1.2"/><path d="M148.32 611.60H157.12M148.32 614.60H157.12M152.72 611.60V614.60" stroke="#E41A1C" stroke-width="0.9" fill="none"/>
<circle cx="177.30" cy="622.30" r="5.95" fill="#E41A1C" fill-opacity="0.5" stroke="#E41A1C" stroke-width="1.2"/><path d="M172.90 620.80H181.70M172.90 623.80H181.70M177.30 620.80V623.80" stroke="#E41A1C" stroke-width="0.9" fill="none"/>
<circle cx="201.88" cy="646.20" r="5.95" fill="#E41A1C" fill-opacity="0.5" stroke="#E41A1C" stroke-width="1.2"/><path d="M197.47 644.70H206.28M197.47 647.70H206.28M201.88 644.70V647.70" stroke="#E41A1C" stroke-width="0.9" fill="none"/>
<circle cx="226.45" cy="664.10" r="5.95" fill="#E41A1C" fill-opacity="0.5" stroke="#E41A1C" stroke-width="1.2"/><path d="M222.05 662.60H230.85M222.05 665.60H230.85M226.45 662.60V665.60" stroke="#E41A1C" stroke-width="0.9" fill="none"/>
<circle cx="251.03" cy="678.70" r="5.95" fill="#E41A1C" fill-opacity="0.5" stroke="#E41A1C" stroke-width="1.2"/><path d="M246.62 677.20H255.43M246.62 680.20H255.43M251.03 677.20V680.20" stroke="#E41A1C" stroke-width="0.9" fill="none"/>
<circle cx="275.60" cy="695.30" r="5.95" fill="#E41A1C" fill-opacity="0.5" stroke="#E41A1C" stroke-width="1.2"/><path d="M271.20 693.80H280.00M271.20 696.80H280.00M275.60 693.80V696.80" stroke="#E41A1C" stroke-width="0.9" fill="none"/>
<circle cx="300.18" cy="709.90" r="5.95" fill="#E41A1C" fill-opacity="0.5" stroke="#E41A1C" stroke-width="1.2"/><path d="M295.78 708.40H304.57M295.78 711.40H304.57M300.18 708.40V711.40" stroke="#E41A1C" stroke-width="0.9" fill="none"/>
<circle cx="324.75" cy="719.70" r="5.95" fill="#E41A1C" fill-opacity="0.5" stroke="#E41A1C" stroke-width="1.2"/><path d="M320.35 718.20H329.15M320.35 721.20H329.15M324.75 718.20V721.20" stroke="#E41A1C" stroke-width="0.9" fill="none"/>
<circle cx="349.32" cy="733.40" r="5.95" fill="#E41A1C" fill-opacity="0.5" stroke="#E41A1C" stroke-width="1.2"/><path d="M344.93 731.90H353.72M344.93 734.90H353.72M349.32 731.90V734.90" stroke="#E41A1C" stroke-width="0.9" fill="none"/>
<circle cx="373.90" cy="748.40" r="5.95" fill="#E41A1C" fill-opacity="0.5" stroke="#E41A1C" stroke-width="1.2"/><path d="M369.50 746.90H378.30M369.50 749.90H378.30M373.90 746.90V749.90" stroke="#E41A1C" stroke-width="0.9" fill="none"/>
<circle cx="398.48" cy="760.70" r="5.95" fill="#E41A1C" fill-opacity="0.5" stroke="#E41A1C" stroke-width="1.2"/><path d="M394.08 759.20H402.88M394.08 762.20H402.88M398.48 759.20V762.20" stroke="#E41A1C" stroke-width="0.9" fill="none"/>
<circle cx="423.05" cy="768.40" r="5.95" fill="#E41A1C" fill-opacity="0.5" stroke="#E41A1C" stroke-width="1.2"/><path d="M418.65 766.90H427.45M418.65 769.90H427.45M423.05 766.90V769.90" stroke="#E41A1C" stroke-width="0.9" fill="none"/>
<circle cx="447.62" cy="774.30" r="5.95" fill="#E41A1C" fill-opacity="0.5" stroke="#E41A1C" stroke-width="1.2"/><path d="M443.23 772.80H452.02M443.23 775.80H452.02M447.62 772.80V775.80" stroke="#E41A1C" stroke-width="0.9" fill="none"/>
<circle cx="472.20" cy="782.60" r="5.95" fill="#E41A1C" fill-opacity="0.5" stroke="#E41A1C" stroke-width="1.2"/><path d="M467.80 781.10H476.60M467.80 784.10H476.60M472.20 781.10V784.10" stroke="#E41A1C" stroke-width="0.9" fill="none"/>
<circle cx="496.77" cy="791.30" r="5.95" fill="#E41A1C" fill-opacity="0.5" stroke="#E41A1C" stroke-width="1.2"/><path d="M492.38 789.80H501.17M492.38 792.80H501.17M496.77 789.80V792.80" stroke="#E41A1C" stroke-width="0.9" fill="none"/>
<circle cx="521.35" cy="798.00" r="5.95" fill="#E41A1C" fill-opacity="0.5" stroke="#E41A1C" stroke-width="1.2"/><path d="M516.95 796.50H525.75M516.95 799.50H525.75M521.35 796.50V799.50" stroke="#E41A1C" stroke-width="0.9" fill="none"/>
<circle cx="545.92" cy="801.10" r="5.95" fill="#E41A1C" fill-opacity="0.5" stroke="#E41A1C" stroke-width="1.2"/><path d="M541.52 799.60H550.32M541.52 802.60H550.32M545.92 799.60V802.60" stroke="#E41A1C" stroke-width="0.9" fill="none"/>
<circle cx="570.50" cy="805.00" r="5.95" fill="#E41A1C" fill-opacity="0.5" stroke="#E41A1C" stroke-width="1.2"/><path d="M566.10 803.50H574.90M566.10 806.50H574.90M570.50 803.50V806.50" stroke="#E41A1C" stroke-width="0.9" fill="none"/>
<polyline points="79.00,587.94 81.06,588.60 83.11,589.28 85.17,589.97 87.23,590.69 89.28,591.42 91.34,592.17 93.40,592.94 95.45,593.72 97.51,594.52 99.56,595.34 101.62,596.17 103.68,597.02 105.73,597.89 107.79,598.77 109.85,599.66 111.90,600.57 113.96,601.50 116.02,602.44 118.07,603.40 120.13,604.37 122.19,605.35 124.24,606.35 126.30,607.36 128.36,608.39 130.41,609.43 132.47,610.48 134.53,611.54 136.58,612.62 138.64,613.70 140.69,614.81 142.75,615.92 144.81,617.04 146.86,618.18 148.92,619.32 150.98,620.48 153.03,621.65 155.09,622.83 157.15,624.02 159.20,625.21 161.26,626.42 163.32,627.64 165.37,628.87 167.43,630.10 169.49,631.35 171.54,632.60 173.60,633.87 175.65,635.14 177.71,636.42 179.77,637.70 181.82,639.00 183.88,640.30 185.94,641.61 187.99,642.92 190.05,644.24 192.11,645.57 194.16,646.90 196.22,648.25 198.28,649.59 200.33,650.94 202.39,652.30 204.45,653.66 206.50,655.03 208.56,656.40 210.62,657.78 212.67,659.16 214.73,660.54 216.78,661.93 218.84,663.32 220.90,664.71 222.95,666.11 225.01,667.51 227.07,668.91 229.12,670.32 231.18,671.72 233.24,673.13 235.29,674.54 237.35,675.96 239.41,677.37 241.46,678.78 243.52,680.20 245.58,681.61 247.63,683.03 249.69,684.45 251.74,685.86 253.80,687.28 255.86,688.69 257.91,690.11 259.97,691.52 262.03,692.93 264.08,694.34 266.14,695.75 268.20,697.16 270.25,698.57 272.31,699.97 274.37,701.37 276.42,702.76 278.48,704.16 280.54,705.55 282.59,706.94 284.65,708.32 286.71,709.70 288.76,711.08 290.82,712.45 292.87,713.81 294.93,715.17 296.99,716.53 299.04,717.88 301.10,719.23 303.16,720.57 305.21,721.90 307.27,723.23 309.33,724.55 311.38,725.87 313.44,727.17 315.50,728.48 317.55,729.77 319.61,731.05 321.67,732.33 323.72,733.60 325.78,734.86 327.83,736.12 329.89,737.36 331.95,738.60 334.00,739.83 336.06,741.04 338.12,742.25 340.17,743.45 342.23,744.64 344.29,745.82 346.34,746.98 348.40,748.14 350.46,749.29 352.51,750.43 354.57,751.56 356.63,752.68 358.68,753.79 360.74,754.89 362.79,755.98 364.85,757.06 366.91,758.13 368.96,759.19 371.02,760.24 373.08,761.28 375.13,762.31 377.19,763.33 379.25,764.34 381.30,765.34 383.36,766.34 385.42,767.32 387.47,768.29 389.53,769.25 391.59,770.20 393.64,771.15 395.70,772.08 397.76,773.00 399.81,773.92 401.87,774.82 403.92,775.71 405.98,776.60 408.04,777.47 410.09,778.34 412.15,779.19 414.21,780.04 416.26,780.87 418.32,781.70 420.38,782.51 422.43,783.32 424.49,784.12 426.55,784.90 428.60,785.68 430.66,786.45 432.72,787.21 434.77,787.95 436.83,788.69 438.88,789.42 440.94,790.14 443.00,790.85 445.05,791.55 447.11,792.24 449.17,792.92 451.22,793.59 453.28,794.25 455.34,794.90 457.39,795.54 459.45,796.17 461.51,796.79 463.56,797.41 465.62,798.01 467.68,798.60 469.73,799.18 471.79,799.76 473.85,800.32 475.90,800.88 477.96,801.42 480.01,801.96 482.07,802.48 484.13,803.00 486.18,803.50 488.24,804.00 490.30,804.49 492.35,804.96 494.41,805.43 496.47,805.89 498.52,806.34 500.58,806.78 502.64,807.21 504.69,807.63 506.75,808.04 508.81,808.44 510.86,808.83 512.92,809.21 514.97,809.58 517.03,809.94 519.09,810.30 521.14,810.64 523.20,810.97 525.26,811.30 527.31,811.61 529.37,811.92 531.43,812.21 533.48,812.50 535.54,812.77 537.60,813.04 539.65,813.30 541.71,813.55 543.77,813.78 545.82,814.01 547.88,814.23 549.94,814.44 551.99,814.64 554.05,814.83 556.10,815.01 558.16,815.18 560.22,815.35 562.27,815.50 564.33,815.64 566.39,815.78 568.44,815.90 570.50,816.01" fill="none" stroke="#0072BD" stroke-width="1.75"/>
<polyline points="79.00,585.46 81.06,586.28 83.11,587.11 85.17,587.95 87.23,588.81 89.28,589.67 91.34,590.54 93.40,591.43 95.45,592.32 97.51,593.22 99.56,594.14 101.62,595.06 103.68,595.99 105.73,596.93 107.79,597.88 109.85,598.83 111.90,599.80 113.96,600.77 116.02,601.76 118.07,602.75 120.13,603.75 122.19,604.76 124.24,605.77 126.30,606.79 128.36,607.83 130.41,608.86 132.47,609.91 134.53,610.96 136.58,612.02 138.64,613.09 140.69,614.16 142.75,615.24 144.81,616.33 146.86,617.42 148.92,618.52 150.98,619.62 153.03,620.73 155.09,621.85 157.15,622.97 159.20,624.10 161.26,625.24 163.32,626.37 165.37,627.52 167.43,628.67 169.49,629.82 171.54,630.98 173.60,632.14 175.65,633.31 177.71,634.48 179.77,635.66 181.82,636.84 183.88,638.02 185.94,639.21 187.99,640.40 190.05,641.59 192.11,642.79 194.16,643.99 196.22,645.20 198.28,646.40 200.33,647.61 202.39,648.83 204.45,650.04 206.50,651.26 208.56,652.48 210.62,653.70 212.67,654.93 214.73,656.15 216.78,657.38 218.84,658.61 220.90,659.84 222.95,661.07 225.01,662.30 227.07,663.54 229.12,664.77 231.18,666.01 233.24,667.25 235.29,668.48 237.35,669.72 239.41,670.96 241.46,672.20 243.52,673.43 245.58,674.67 247.63,675.91 249.69,677.14 251.74,678.38 253.80,679.61 255.86,680.85 257.91,682.08 259.97,683.31 262.03,684.55 264.08,685.77 266.14,687.00 268.20,688.23 270.25,689.45 272.31,690.68 274.37,691.90 276.42,693.11 278.48,694.33 280.54,695.54 282.59,696.75 284.65,697.96 286.71,699.17 288.76,700.37 290.82,701.57 292.87,702.76 294.93,703.95 296.99,705.14 299.04,706.33 301.10,707.51 303.16,708.68 305.21,709.85 307.27,711.02 309.33,712.19 311.38,713.35 313.44,714.50 315.50,715.65 317.55,716.79 319.61,717.93 321.67,719.07 323.72,720.20 325.78,721.32 327.83,722.44 329.89,723.55 331.95,724.66 334.00,725.76 336.06,726.85 338.12,727.94 340.17,729.03 342.23,730.10 344.29,731.18 346.34,732.24 348.40,733.30 350.46,734.36 352.51,735.41 354.57,736.45 356.63,737.49 358.68,738.52 360.74,739.54 362.79,740.56 364.85,741.57 366.91,742.58 368.96,743.58 371.02,744.57 373.08,745.56 375.13,746.54 377.19,747.51 379.25,748.48 381.30,749.44 383.36,750.40 385.42,751.35 387.47,752.29 389.53,753.22 391.59,754.15 393.64,755.08 395.70,755.99 397.76,756.90 399.81,757.80 401.87,758.70 403.92,759.59 405.98,760.47 408.04,761.35 410.09,762.22 412.15,763.08 414.21,763.93 416.26,764.78 418.32,765.62 420.38,766.46 422.43,767.28 424.49,768.10 426.55,768.91 428.60,769.72 430.66,770.52 432.72,771.31 434.77,772.09 436.83,772.87 438.88,773.64 440.94,774.40 443.00,775.16 445.05,775.90 447.11,776.64 449.17,777.37 451.22,778.10 453.28,778.82 455.34,779.53 457.39,780.23 459.45,780.92 461.51,781.61 463.56,782.29 465.62,782.96 467.68,783.62 469.73,784.28 471.79,784.93 473.85,785.57 475.90,786.20 477.96,786.82 480.01,787.44 482.07,788.05 484.13,788.65 486.18,789.24 488.24,789.82 490.30,790.40 492.35,790.97 494.41,791.53 496.47,792.08 498.52,792.62 500.58,793.16 502.64,793.68 504.69,794.20 506.75,794.71 508.81,795.21 510.86,795.71 512.92,796.19 514.97,796.67 517.03,797.14 519.09,797.60 521.14,798.05 523.20,798.49 525.26,798.92 527.31,799.35 529.37,799.76 531.43,800.17 533.48,800.57 535.54,800.96 537.60,801.34 539.65,801.71 541.71,802.07 543.77,802.42 545.82,802.77 547.88,803.10 549.94,803.43 551.99,803.75 554.05,804.06 556.10,804.36 558.16,804.65 560.22,804.93 562.27,805.20 564.33,805.46 566.39,805.71 568.44,805.96 570.50,806.19" fill="none" stroke="#E41A1C" stroke-width="1.75"/>
</g>
<rect x="282.4" y="532.1" width="289.0" height="102.89999999999998" fill="#fff" stroke="#858585" stroke-width="1.3"/>
<path d="M310.2 538.1V559.6999999999999M305.59999999999997 538.1H314.8M305.59999999999997 559.6999999999999H314.8" stroke="#0072BD" stroke-width="1.2" fill="none"/>
<circle cx="310.2" cy="548.9" r="4.4" fill="#0072BD" fill-opacity="0.5" stroke="#0072BD" stroke-width="1.2"/>
<path d="M310.2 567.8000000000001V589.4M305.59999999999997 567.8000000000001H314.8M305.59999999999997 589.4H314.8" stroke="#E41A1C" stroke-width="1.2" fill="none"/>
<circle cx="310.2" cy="578.6" r="4.4" fill="#E41A1C" fill-opacity="0.5" stroke="#E41A1C" stroke-width="1.2"/>
<circle cx="310.2" cy="612.5" r="4.7" fill="none" stroke="#B3B3B3" stroke-width="2"/>
<text transform="translate(336.3 557.6) scale(1 1.04)" font-size="22.25">FLAME-2 no dressing</text>
<text transform="translate(336.3 587.0) scale(1 1.04)" font-size="22.25">FLAME-2 with dressing</text>
<text transform="translate(336.3 617.4) scale(1 1.04)" font-size="22.25">FLAME-1 (<tspan font-family="Liberation Serif" font-style="italic" font-size="23">η</tspan><tspan font-size="16.5" dy="9.5">int</tspan><tspan dy="-9.5" dx="1.5">)</tspan></text>
<path d="M78.4 494.4H583.5" stroke="#1a1a1a" stroke-width="1.05" fill="none"/>
<path d="M78.4 825.75H583.5" stroke="#3c3c3c" stroke-width="1.3" fill="none"/>
<path d="M79.0 493.9V826.1M583.0 493.9V826.1" stroke="#2a2a2a" stroke-width="1.15" fill="none"/>
<path d="M201.88 825.5V820.0M201.88 494.4V499.7M324.75 825.5V820.0M324.75 494.4V499.7M447.62 825.5V820.0M447.62 494.4V499.7M570.50 825.5V820.0M570.50 494.4V499.7M79.0 765.30H84.3M582.9 765.30H577.6M79.0 705.10H84.3M582.9 705.10H577.6M79.0 644.90H84.3M582.9 644.90H577.6M79.0 584.70H84.3M582.9 584.70H577.6M79.0 524.50H84.3M582.9 524.50H577.6" stroke="#262626" stroke-width="1.1" fill="none"/>
<text transform="translate(79.00 859.1) scale(1 1.04)" font-size="24.5" text-anchor="middle">0</text>
<text transform="translate(201.88 859.1) scale(1 1.04)" font-size="24.5" text-anchor="middle">50</text>
<text transform="translate(324.75 859.1) scale(1 1.04)" font-size="24.5" text-anchor="middle">100</text>
<text transform="translate(447.62 859.1) scale(1 1.04)" font-size="24.5" text-anchor="middle">150</text>
<text transform="translate(570.50 859.1) scale(1 1.04)" font-size="24.5" text-anchor="middle">200</text>
<text transform="translate(70.2 835.60) scale(1 1.04)" font-size="24.5" text-anchor="end">0</text>
<text transform="translate(70.2 775.40) scale(1 1.04)" font-size="24.5" text-anchor="end">10</text>
<text transform="translate(70.2 715.20) scale(1 1.04)" font-size="24.5" text-anchor="end">20</text>
<text transform="translate(70.2 655.00) scale(1 1.04)" font-size="24.5" text-anchor="end">30</text>
<text transform="translate(70.2 594.80) scale(1 1.04)" font-size="24.5" text-anchor="end">40</text>
<text transform="translate(70.2 534.60) scale(1 1.04)" font-size="24.5" text-anchor="end">50</text>
<text transform="translate(618.4 835.60) scale(1 1.04)" font-size="24.5" text-anchor="middle">0</text>
<text transform="translate(614.4 775.40) scale(1 1.04)" font-size="24.5" text-anchor="middle">5.6</text>
<text transform="translate(614.4 715.20) scale(1 1.04)" font-size="24.5" text-anchor="middle">11.2</text>
<text transform="translate(614.4 655.00) scale(1 1.04)" font-size="24.5" text-anchor="middle">16.8</text>
<text transform="translate(614.5 594.80) scale(1 1.04)" font-size="24.5" text-anchor="middle">22.4</text>
<text transform="translate(614.5 534.60) scale(1 1.04)" font-size="24.5" text-anchor="middle">28.1</text>
<text transform="translate(330.7 894.0) scale(1 1.04)" font-size="27.3" text-anchor="middle">Storage time <tspan font-style="italic">t</tspan> [ns]</text>
<text transform="translate(19.7 660.45) rotate(-90) scale(1 0.95)" font-size="28" text-anchor="middle"><tspan font-family="Liberation Serif" font-style="italic" font-size="28.5">η</tspan><tspan font-size="20.5" dy="13.4">int</tspan><tspan dy="-13.4"> [%]</tspan></text>
<text transform="translate(671.6 659.25) rotate(-90) scale(1 0.95)" font-size="28" text-anchor="middle"><tspan font-family="Liberation Serif" font-style="italic" font-size="28.5">η</tspan><tspan font-size="20.5" dy="13.4">e2e</tspan><tspan dy="-13.4"> [%]</tspan></text>
<text transform="translate(330.7 482.79999999999995) scale(1 1.065)" font-size="27" font-weight="bold" text-anchor="middle">Off-resonance storage</text>
<text transform="translate(8 480.0) scale(1 1.04)" font-size="30" font-weight="bold">(b)</text>
</svg>
</body></html>
